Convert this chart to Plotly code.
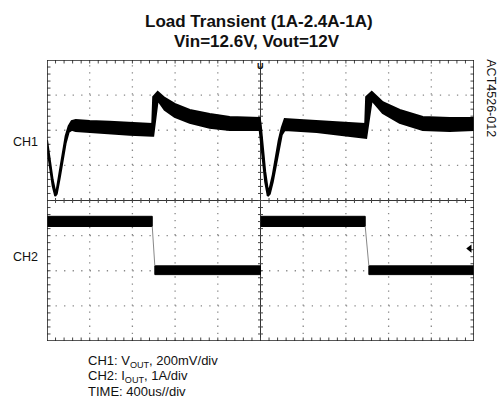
import plotly.graph_objects as go

# ---- scope settings ----
TIME_PER_DIV_US = 400          # 400us/div
N_XDIV = 10
N_YDIV = 8

# ---- CH1 (VOUT, 200mV/div) noise-band envelope, in screen divisions ----
ch1_t = [0, 25, 53, 77, 91, 119, 147, 175, 203, 231, 269, 400, 587, 775, 986,
         995, 1037, 1102, 1196, 1337, 1524, 1711, 1992,
         2002, 2021, 2044, 2068, 2087, 2115, 2143, 2171, 2199, 2227, 2368, 2527,
         2742, 2981, 2990, 3042, 3145, 3304, 3520, 3772, 4000]
ch1_upper = [1.72, 1.16, 0.59, 0.25, 0.30, 0.82, 1.38, 1.84, 2.12, 2.26, 2.29, 2.26, 2.24, 2.21, 2.18,
             2.95, 3.09, 2.92, 2.75, 2.58, 2.46, 2.38, 2.35,
             2.15, 1.44, 0.82, 0.30, 0.36, 0.73, 1.21, 1.72, 2.07, 2.32, 2.29, 2.26,
             2.21, 2.18, 2.95, 3.09, 2.80, 2.58, 2.38, 2.35, 2.35]
ch1_lower = [1.55, 1.01, 0.42, 0.13, 0.19, 0.64, 1.16, 1.64, 1.95, 2.01, 1.98, 1.95, 1.92, 1.87, 1.84,
             1.84, 2.86, 2.58, 2.38, 2.21, 2.07, 2.01, 2.01,
             1.72, 1.16, 0.53, 0.13, 0.19, 0.53, 0.99, 1.44, 1.87, 2.01, 1.98, 1.95,
             1.87, 1.78, 1.78, 2.86, 2.49, 2.21, 2.01, 1.98, 2.01]

# ---- CH2 (IOUT, 1A/div) segments, in screen divisions ----
ch2_seg_start = [0, 1010, 2005, 3015]
ch2_seg_end = [986, 2000, 2981, 4000]
ch2_seg_upper = [-0.45, -1.86, -0.45, -1.86]
ch2_seg_lower = [-0.74, -2.11, -0.74, -2.11]
CH2_REF_DIV = -1.37
TRIGGER_T = 2000

title_lines = ["Load Transient (1A-2.4A-1A)", "Vin=12.6V, Vout=12V"]
legend_lines = ["CH1: V<sub>OUT</sub>, 200mV/div",
                "CH2: I<sub>OUT</sub>, 1A/div",
                "TIME: 400us//div"]

X_MAX = TIME_PER_DIV_US * N_XDIV
Y_HALF = N_YDIV / 2

fig = go.Figure()

# CH1 band
fig.add_trace(go.Scatter(x=ch1_t, y=ch1_lower, mode="lines",
                         line=dict(color="black", width=2), hoverinfo="skip"))
fig.add_trace(go.Scatter(x=ch1_t, y=ch1_upper, mode="lines", fill="tonexty",
                         fillcolor="black", line=dict(color="black", width=2),
                         hoverinfo="skip"))

# CH2 bands
for s, e, u, l in zip(ch2_seg_start, ch2_seg_end, ch2_seg_upper, ch2_seg_lower):
    fig.add_trace(go.Scatter(x=[s, e, e, s, s], y=[u, u, l, l, u], mode="lines",
                             fill="toself", fillcolor="black",
                             line=dict(color="black", width=1), hoverinfo="skip"))
# CH2 fast falling edges (faint)
for i in range(len(ch2_seg_start) - 1):
    if ch2_seg_upper[i] > ch2_seg_upper[i + 1]:
        fig.add_trace(go.Scatter(x=[ch2_seg_end[i], ch2_seg_start[i + 1]],
                                 y=[ch2_seg_lower[i], ch2_seg_upper[i + 1]],
                                 mode="lines", line=dict(color="#888", width=1),
                                 hoverinfo="skip"))

# CH2 reference marker and trigger marker
fig.add_trace(go.Scatter(x=[X_MAX - 40], y=[CH2_REF_DIV], mode="markers",
                         marker=dict(symbol="triangle-left", size=7, color="black"),
                         hoverinfo="skip", cliponaxis=False))
fig.add_trace(go.Scatter(x=[TRIGGER_T], y=[Y_HALF + 0.05], mode="markers",
                         marker=dict(symbol="triangle-down", size=6, color="black"),
                         hoverinfo="skip", cliponaxis=False))

# ---- graticule ----
shapes = []
px_x = TIME_PER_DIV_US / 42.7   # data units per pixel (x)
px_y = 1 / 35.2                 # data units per pixel (y)
for k in range(1, N_XDIV):
    t = k * TIME_PER_DIV_US
    if k == N_XDIV // 2:
        shapes.append(dict(type="line", x0=t, x1=t, y0=-Y_HALF, y1=Y_HALF,
                           line=dict(color="#333", width=1), layer="below"))
    else:
        shapes.append(dict(type="line", x0=t, x1=t, y0=-Y_HALF, y1=Y_HALF,
                           line=dict(color="#888", width=1.3, dash="1.3px,5.74px"),
                           layer="below"))
for k in range(1, N_YDIV):
    y = k - Y_HALF
    if y == 0:
        shapes.append(dict(type="line", x0=0, x1=X_MAX, y0=0, y1=0,
                           line=dict(color="#333", width=1), layer="below"))
    else:
        shapes.append(dict(type="line", x0=0, x1=X_MAX, y0=y, y1=y,
                           line=dict(color="#888", width=1.3, dash="1.3px,7.24px"),
                           layer="below"))

# minor ticks on borders and centre lines
path = []
for i in range(1, N_XDIV * 5):
    t = i * TIME_PER_DIV_US / 5
    path.append(f"M{t},{Y_HALF} L{t},{Y_HALF - 3.5 * px_y}")
    path.append(f"M{t},{-Y_HALF} L{t},{-Y_HALF + 3.5 * px_y}")
    path.append(f"M{t},{-2.5 * px_y} L{t},{2.5 * px_y}")
for i in range(1, N_YDIV * 5):
    y = i / 5 - Y_HALF
    path.append(f"M0,{y} L{3.5 * px_x},{y}")
    path.append(f"M{X_MAX},{y} L{X_MAX - 3.5 * px_x},{y}")
    c = X_MAX / 2
    path.append(f"M{c - 2.5 * px_x},{y} L{c + 2.5 * px_x},{y}")
shapes.append(dict(type="path", path=" ".join(path),
                   line=dict(color="#444", width=1), layer="below"))
shapes.append(dict(type="rect", x0=0, x1=X_MAX, y0=-Y_HALF, y1=Y_HALF,
                   line=dict(color="#222", width=1.6), layer="above"))

# ---- annotations ----
FONT = "Liberation Sans, Arial, sans-serif"
ann = [
    dict(text=f"<b>{title_lines[0]}</b>", x=0.496, y=1.138, font=dict(size=17)),
    dict(text=f"<b>{title_lines[1]}</b>", x=0.491, y=1.065, font=dict(size=17)),
    dict(text="CH1", x=-0.051, y=0.708, font=dict(size=12.5)),
    dict(text="CH2", x=-0.051, y=0.300, font=dict(size=12.5)),
    dict(text="ACT4526-012", x=1.039, y=0.865, textangle=90, font=dict(size=12.5)),
    dict(text="<b>U</b>", x=0.5, y=0.978, font=dict(size=9)),
]
for i, line in enumerate(legend_lines):
    ann.append(dict(text=line, x=0.0907, y=-0.0717 - i * 0.0533, xanchor="left",
                    font=dict(size=13)))
for a in ann:
    a.setdefault("xanchor", "center")
    a.update(xref="paper", yref="paper", yanchor="middle", showarrow=False)
    a["font"].update(family=FONT, color="#111")

fig.update_layout(
    width=498, height=403, autosize=False,
    margin=dict(l=47, r=24, t=60, b=61.5),
    paper_bgcolor="white", plot_bgcolor="white",
    showlegend=False,
    xaxis=dict(range=[0, X_MAX], showgrid=False, zeroline=False, showticklabels=False,
               ticks="", showline=False, fixedrange=True),
    yaxis=dict(range=[-Y_HALF, Y_HALF], showgrid=False, zeroline=False,
               showticklabels=False, ticks="", showline=False, fixedrange=True),
    shapes=shapes,
    annotations=ann,
)
fig.write_html("out.html",
               config={"displayModeBar": False, "responsive": False},
               default_width="498px", default_height="403px",
               post_script="document.body.style.margin='0';"
                           "document.body.style.overflow='hidden';")
